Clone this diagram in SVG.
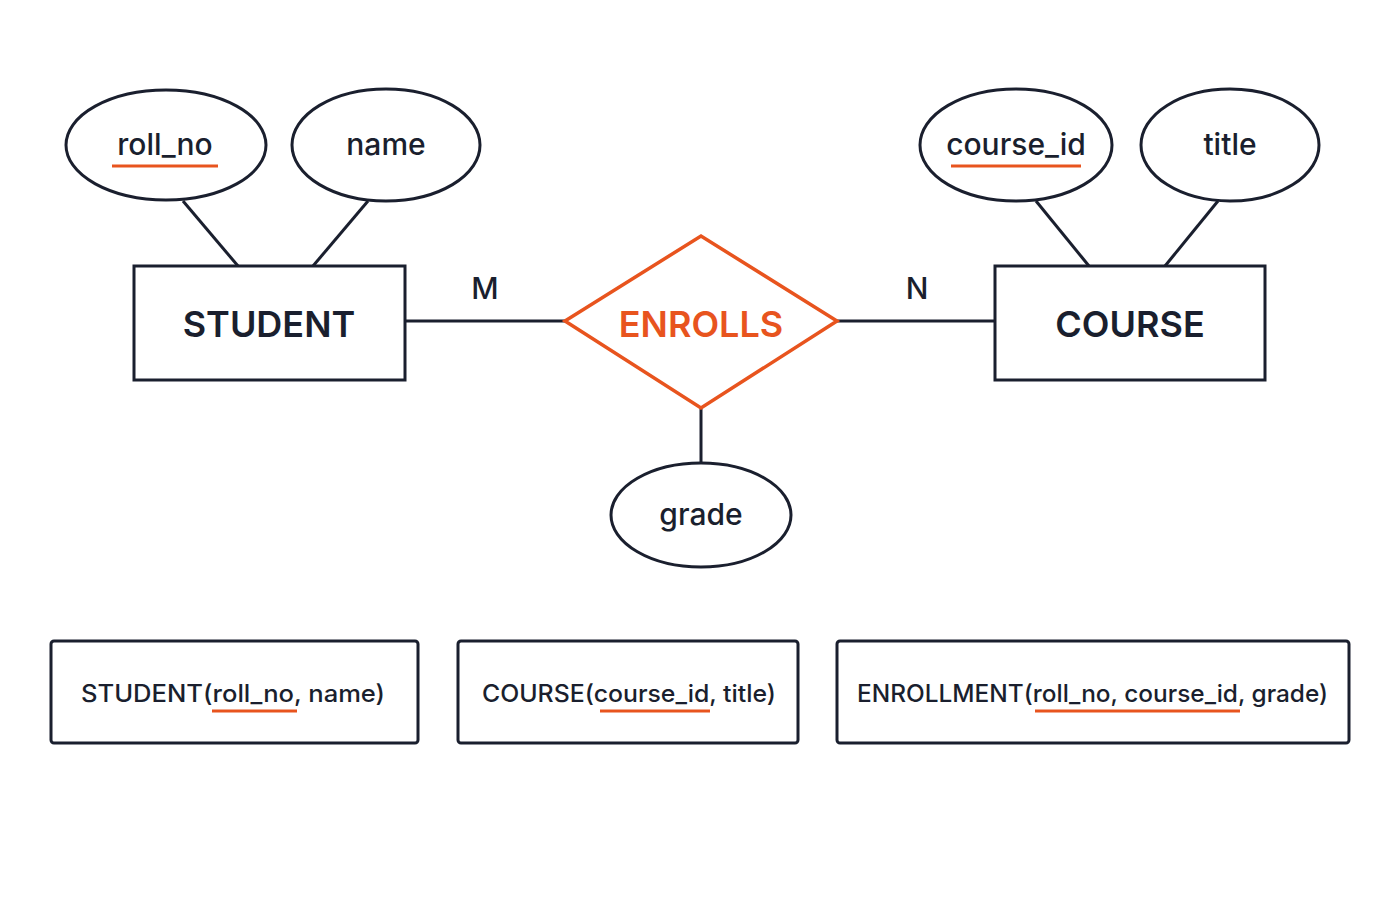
<svg xmlns="http://www.w3.org/2000/svg" width="1400" height="900" viewBox="0 0 1400 900">
<style>
.s{fill:#fff;stroke:#1a1f2e;stroke-width:3}
.c{stroke:#1a1f2e;stroke-width:3;fill:none}
.u{stroke:#e8541e;stroke-width:3}
text{font-family:Inter,"Liberation Sans",sans-serif;fill:#1a1f2e}
.a{font-size:30px;font-weight:500;text-anchor:middle}
.e{font-size:36px;font-weight:600;text-anchor:middle}
.r{font-size:24px;font-weight:500}
</style>
<rect width="1400" height="900" fill="#fff"/>
<g id="connectors">
<line class="c" x1="183" y1="201" x2="238" y2="266"/>
<line class="c" x1="368" y1="201" x2="313" y2="266"/>
<line class="c" x1="1036" y1="201" x2="1089" y2="266"/>
<line class="c" x1="1218" y1="201" x2="1165" y2="266"/>
<line class="c" x1="405" y1="321" x2="565" y2="321"/>
<line class="c" x1="837" y1="321" x2="995" y2="321"/>
<line class="c" x1="701" y1="408" x2="701" y2="463"/>
<text x="485" y="299" class="a" font-weight="600">M</text>
<text x="917" y="299" class="a" font-weight="600">N</text>
</g>
<g id="roll_no"><ellipse class="s" cx="166" cy="145" rx="100" ry="55"/><text x="165" y="155" class="a">roll_no</text><line class="u" x1="112" y1="166" x2="218" y2="166"/></g>
<g id="name"><ellipse class="s" cx="386" cy="145" rx="94" ry="56"/><text x="386" y="155" class="a">name</text></g>
<g id="course_id"><ellipse class="s" cx="1016" cy="145" rx="96" ry="56"/><text x="1016" y="155" class="a">course_id</text><line class="u" x1="951" y1="166" x2="1081" y2="166"/></g>
<g id="title"><ellipse class="s" cx="1230" cy="145" rx="89" ry="56"/><text x="1230" y="155" class="a">title</text></g>
<g id="student"><rect class="s" x="134" y="266" width="271" height="114"/><text x="269" y="337" class="e">STUDENT</text></g>
<g id="course"><rect class="s" x="995" y="266" width="270" height="114"/><text x="1130" y="337" class="e">COURSE</text></g>
<g id="enrolls"><polygon points="565,321 701,236 837,321 701,408" fill="#fff" stroke="#e8541e" stroke-width="3.5"/><text x="701" y="337" class="e" style="fill:#e8541e">ENROLLS</text></g>
<g id="grade"><ellipse class="s" cx="701" cy="515" rx="90" ry="52"/><text x="701" y="525" class="a">grade</text></g>
<g id="rel1"><rect class="s" x="51" y="641" width="367" height="102" rx="3"/><text x="81" y="702" class="r" textLength="304" lengthAdjust="spacingAndGlyphs">STUDENT(roll_no, name)</text><line class="u" x1="212" y1="711" x2="297" y2="711"/></g>
<g id="rel2"><rect class="s" x="458" y="641" width="340" height="102" rx="3"/><text x="482" y="702" class="r" textLength="294" lengthAdjust="spacingAndGlyphs">COURSE(course_id, title)</text><line class="u" x1="600" y1="711" x2="710" y2="711"/></g>
<g id="rel3"><rect class="s" x="837" y="641" width="512" height="102" rx="3"/><text x="857" y="702" class="r" textLength="471" lengthAdjust="spacingAndGlyphs">ENROLLMENT(roll_no, course_id, grade)</text><line class="u" x1="1035" y1="711" x2="1240" y2="711"/></g>
</svg>
